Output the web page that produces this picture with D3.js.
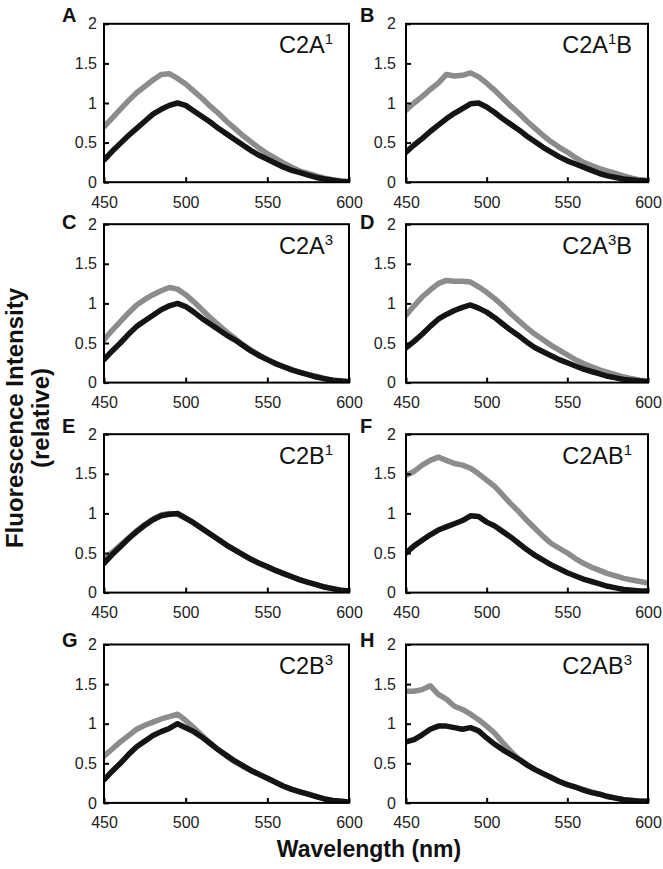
<!DOCTYPE html>
<html><head><meta charset="utf-8">
<script src="https://cdn.jsdelivr.net/npm/d3@7"></script>
<style>
html,body{margin:0;padding:0;background:#fff;}
svg{display:block;font-family:"Liberation Sans",Arial,Helvetica,sans-serif;}
</style>
</head><body>
<svg id="chart" width="663" height="869"></svg>
<script>
// ---------------- DATA ----------------
const wavelength = [450,455,460,465,470,475,480,485,490,495,500,505,510,515,520,525,530,535,540,545,550,555,560,565,570,575,580,585,590,595,600];
const panelLetters = ["A","B","C","D","E","F","G","H"];
const titlePre  = ["C2A","C2A","C2A","C2A","C2B","C2AB","C2B","C2AB"];
const titleSup  = ["1","1","3","3","1","1","3","3"];
const titlePost = ["","B","","B","","","",""];
const xTicks = [450,500,550,600];
const xTickLabels = ["450","500","550","600"];
const yTicks = [0,0.5,1,1.5,2];
const yTickLabels = ["0","0.5","1","1.5","2"];
const xTitle = "Wavelength (nm)";
const yTitle = ["Fluorescence Intensity","(relative)"];

const greyA  = [.70,.81,.92,1.03,1.13,1.21,1.29,1.36,1.37,1.31,1.24,1.15,1.06,.96,.87,.77,.68,.59,.51,.43,.36,.30,.24,.19,.14,.11,.08,.05,.03,.02,.01];
const blackA = [.28,.39,.49,.59,.68,.77,.86,.92,.97,1.0,.97,.90,.83,.76,.68,.61,.54,.47,.40,.34,.29,.24,.19,.15,.12,.09,.06,.04,.025,.01,.005];
const greyB  = [.91,1.0,1.08,1.17,1.25,1.36,1.34,1.35,1.38,1.33,1.25,1.16,1.06,.96,.87,.77,.68,.59,.51,.44,.38,.31,.25,.21,.17,.14,.11,.08,.05,.03,.02];
const blackB = [.38,.47,.55,.64,.72,.80,.87,.93,.99,1.0,.95,.88,.80,.73,.66,.58,.51,.44,.38,.32,.27,.23,.19,.15,.11,.08,.06,.04,.03,.02,.015];
const greyC  = [.54,.66,.77,.88,.98,1.05,1.11,1.16,1.20,1.18,1.11,1.02,.92,.82,.73,.64,.56,.48,.41,.35,.29,.24,.20,.16,.13,.10,.08,.05,.03,.02,.01];
const blackC = [.29,.40,.50,.61,.71,.78,.85,.92,.97,1.0,.96,.89,.81,.74,.67,.60,.54,.47,.40,.34,.29,.24,.20,.16,.13,.10,.07,.05,.03,.02,.01];
const greyD  = [.85,.97,1.08,1.17,1.25,1.29,1.28,1.28,1.27,1.21,1.14,1.06,.97,.87,.78,.69,.61,.54,.47,.41,.35,.29,.24,.20,.16,.13,.10,.07,.05,.03,.02];
const blackD = [.44,.52,.61,.71,.80,.86,.91,.95,.98,.94,.89,.82,.74,.66,.59,.51,.44,.39,.34,.29,.25,.21,.17,.14,.11,.08,.06,.04,.03,.02,.01];
const greyE  = [.41,.51,.60,.69,.78,.86,.93,.98,1.0,.99,.94,.88,.81,.74,.67,.60,.54,.48,.42,.37,.32,.28,.24,.20,.16,.13,.10,.07,.05,.03,.02];
const blackE = [.37,.48,.58,.68,.77,.85,.92,.97,.99,1.0,.94,.88,.81,.74,.67,.60,.54,.48,.42,.37,.33,.28,.24,.20,.16,.13,.10,.07,.05,.03,.02];
const greyF  = [1.48,1.53,1.61,1.67,1.71,1.67,1.63,1.61,1.57,1.50,1.42,1.34,1.23,1.12,1.02,.91,.81,.71,.62,.56,.50,.43,.37,.32,.28,.24,.21,.18,.16,.14,.12];
const blackF = [.50,.59,.66,.73,.79,.83,.87,.91,.97,.96,.89,.84,.77,.70,.62,.54,.47,.41,.35,.30,.25,.21,.17,.14,.11,.08,.06,.04,.03,.02,.02];
const greyG  = [.59,.68,.77,.85,.93,.98,1.02,1.06,1.09,1.12,1.04,.95,.85,.76,.67,.59,.52,.46,.41,.36,.31,.26,.21,.17,.14,.11,.08,.05,.03,.02,.01];
const blackG = [.29,.40,.50,.61,.71,.78,.85,.90,.94,1.0,.95,.90,.83,.75,.67,.60,.53,.47,.41,.36,.31,.26,.21,.17,.14,.11,.08,.05,.03,.02,.01];
const greyH  = [1.41,1.41,1.43,1.48,1.37,1.31,1.22,1.18,1.12,1.05,.97,.88,.76,.65,.55,.48,.42,.37,.32,.27,.23,.20,.17,.14,.11,.08,.06,.04,.03,.02,.02];
const blackH = [.77,.80,.86,.93,.97,.97,.95,.93,.95,.91,.82,.74,.67,.61,.55,.48,.42,.37,.32,.27,.23,.20,.16,.13,.11,.08,.06,.04,.03,.02,.02];

const greySeries  = [greyA, greyB, greyC, greyD, greyE, greyF, greyG, greyH];
const blackSeries = [blackA, blackB, blackC, blackD, blackE, blackF, blackG, blackH];

// ---------------- LAYOUT ----------------
const colX = [104, 406];
const colW = [245, 242];
const rowY = [23.8, 224.2, 434.2, 644.5];
const plotH = 158.4;
const letterBase = [21.5, 228.5, 433, 647];
const letterX = [62, 360];
const yPad = [7, 10];
const GREY = "#8c8c8c", BLACK = "#141414";

const svg = d3.select("#chart");

panelLetters.forEach((letter, i) => {
  const col = i % 2, row = Math.floor(i / 2);
  const x0 = colX[col], y0 = rowY[row], w = colW[col];
  const g = svg.append("g").attr("transform", `translate(${x0},${y0})`);

  const x = d3.scaleLinear().domain([450, 600]).range([0, w]);
  const y = d3.scaleLinear().domain([0, 2]).range([plotH, 0]);

  const clipId = "clip" + i;
  g.append("clipPath").attr("id", clipId)
    .append("rect").attr("width", w).attr("height", plotH);

  const line = d3.line().x((d, j) => x(wavelength[j])).y(d => y(d));

  const lines = g.append("g").attr("clip-path", `url(#${clipId})`);
  lines.append("path").datum(greySeries[i])
    .attr("d", line).attr("fill", "none").attr("stroke", GREY)
    .attr("stroke-width", 5.5).attr("stroke-linejoin", "round").attr("stroke-linecap", "round");
  lines.append("path").datum(blackSeries[i])
    .attr("d", line).attr("fill", "none").attr("stroke", BLACK)
    .attr("stroke-width", 5.5).attr("stroke-linejoin", "round").attr("stroke-linecap", "round");

  // axes
  const xa = g.append("g").attr("transform", `translate(0,${plotH})`)
    .call(d3.axisBottom(x).tickValues(xTicks).tickFormat((d, k) => xTickLabels[k])
      .tickSizeInner(-5).tickSizeOuter(0).tickPadding(14));
  const ya = g.append("g")
    .call(d3.axisLeft(y).tickValues(yTicks).tickFormat((d, k) => yTickLabels[k])
      .tickSizeInner(-5).tickSizeOuter(0).tickPadding(yPad[col]));
  [xa, ya].forEach(a => {
    a.select(".domain").remove();
    a.selectAll(".tick line").attr("stroke", "#000").attr("stroke-width", 2);
    a.selectAll(".tick text").attr("font-size", 16).attr("fill", "#222")
      .attr("font-family", "'Liberation Sans',Arial,sans-serif");
  });

  // frame
  g.append("rect").attr("width", w).attr("height", plotH)
    .attr("fill", "none").attr("stroke", "#000").attr("stroke-width", 2);

  // title
  const t = g.append("text").attr("x", w - 16).attr("y", 29.5)
    .attr("text-anchor", "end").attr("font-size", 23.5).attr("fill", "#111");
  t.append("tspan").text(titlePre[i]);
  t.append("tspan").attr("font-size", 15).attr("dy", -9).text(titleSup[i]);
  if (titlePost[i]) t.append("tspan").attr("dy", 9).text(titlePost[i]);

  // panel letter
  svg.append("text").attr("x", letterX[col]).attr("y", letterBase[row])
    .attr("font-size", 20).attr("font-weight", "bold").attr("fill", "#111").text(letter);
});

// axis titles
svg.append("text").attr("x", 369).attr("y", 857).attr("text-anchor", "middle")
  .attr("font-size", 23).attr("font-weight", "bold").attr("fill", "#111").text(xTitle);
svg.append("text").attr("transform", "translate(23,418) rotate(-90)").attr("text-anchor", "middle")
  .attr("font-size", 24).attr("font-weight", "bold").attr("fill", "#111").text(yTitle[0]);
svg.append("text").attr("transform", "translate(49,418) rotate(-90)").attr("text-anchor", "middle")
  .attr("font-size", 24).attr("font-weight", "bold").attr("fill", "#111").text(yTitle[1]);
</script>
</body></html>
